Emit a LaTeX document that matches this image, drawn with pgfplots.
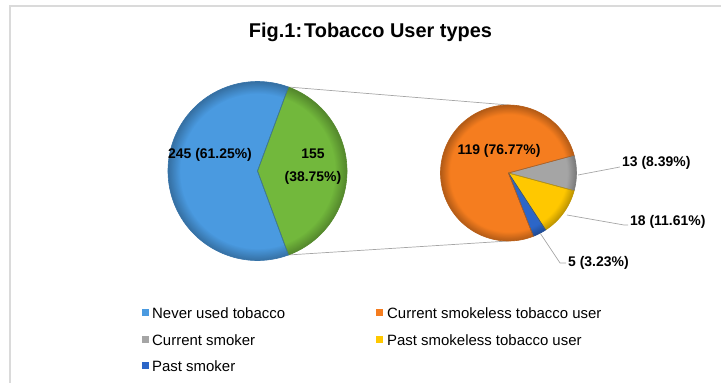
\documentclass[border=0pt]{standalone}
\usepackage{fontspec}
\setmainfont{Liberation Sans}
\usepackage{pgfplots}
\usepackage{pgfplotstable}
\usetikzlibrary{fadings}
\pgfplotsset{compat=1.18}

\definecolor{neverblue}{HTML}{4A9AE0}
\definecolor{usergreen}{HTML}{72B83C}
\definecolor{smokelessorange}{HTML}{F57D1F}
\definecolor{smokergray}{HTML}{A5A5A5}
\definecolor{pastyellow}{HTML}{FFC800}
\definecolor{pastblue}{HTML}{2C66C8}
\definecolor{linegray}{HTML}{A6A6A6}
\definecolor{framegray}{HTML}{DADADA}

% soft darkening towards the rim of each pie
\pgfdeclareradialshading{pierimshade}{\pgfpointorigin}{%
  color(0bp)=(pgftransparent!100); color(21.5bp)=(pgftransparent!100);
  color(25bp)=(pgftransparent!72); color(50bp)=(pgftransparent!72)}
\pgfdeclarefading{pierim}{\pgfuseshading{pierimshade}}

% main pie: the tobacco users are split out into the second pie
\pgfplotstableread[col sep=comma]{
label,value,colour
Tobacco users,155,usergreen
Never used tobacco,245,neverblue
}\mainpie

% breakdown of the tobacco users
\pgfplotstableread[col sep=comma]{
label,value,colour
Current smoker,13,smokergray
Past smokeless tobacco user,18,pastyellow
Past smoker,5,pastblue
Current smokeless tobacco user,119,smokelessorange
}\splitpie

% pie from a table: first slice centred on 0 degrees, the others follow clockwise
\newcommand\drawpie[4]{% table, centre x, centre y, radius (bp)
  \pgfplotstablegetrowsof{#1}%
  \pgfmathtruncatemacro\lastrow{\pgfplotsretval-1}%
  \gdef\pietotal{0}%
  \foreach \i in {0,...,\lastrow}{%
    \pgfplotstablegetelem{\i}{value}\of{#1}%
    \pgfmathsetmacro\tmp{\pietotal+\pgfplotsretval}%
    \xdef\pietotal{\tmp}}%
  \pgfplotstablegetelem{0}{value}\of{#1}%
  \pgfmathsetmacro\tmp{\pgfplotsretval/\pietotal*180}%
  \xdef\piecur{\tmp}%
  \foreach \i in {0,...,\lastrow}{%
    \pgfplotstablegetelem{\i}{colour}\of{#1}\let\slicecol\pgfplotsretval
    \pgfplotstablegetelem{\i}{value}\of{#1}%
    \pgfmathsetmacro\nxt{\piecur-\pgfplotsretval/\pietotal*360}%
    \fill[fill=\slicecol] (axis cs:#2,#3) -- ++(\piecur:#4bp)
      arc[start angle=\piecur, end angle=\nxt, radius=#4bp] -- cycle;
    \xdef\piecur{\nxt}}%
  \fill[black, path fading=pierim] (axis cs:#2,#3) circle[radius=#4bp];
  \xdef\piecur{\tmp}%
  \foreach \i in {0,...,\lastrow}{%
    \pgfplotstablegetelem{\i}{colour}\of{#1}\let\slicecol\pgfplotsretval
    \pgfplotstablegetelem{\i}{value}\of{#1}%
    \pgfmathsetmacro\nxt{\piecur-\pgfplotsretval/\pietotal*360}%
    \draw[draw=\slicecol!75!black, line width=0.6bp, line join=round]
      (axis cs:#2,#3) -- ++(\piecur:#4bp)
      arc[start angle=\piecur, end angle=\nxt, radius=#4bp] -- cycle;
    \xdef\piecur{\nxt}}%
}

\newcommand\labelfont{\bfseries\fontsize{14}{23}\selectfont}
\newcommand\legendfont{\fontsize{15}{18}\selectfont}

\begin{document}
\begin{tikzpicture}
\begin{axis}[
  scale only axis, width=721bp, height=383bp,
  xmin=0, xmax=721, ymin=0, ymax=383,
  hide axis, clip=false]

% chart frame (top and left edges)
\draw[framegray, line width=1.2bp] (axis cs:10,0) -- (axis cs:10,377) -- (axis cs:721,377);

% connectors from the split slice to the second pie
\draw[linegray, line width=0.7bp] (axis cs:257.5,212) ++(69.75:89.5bp) -- (axis cs:508.5,278);
\draw[linegray, line width=0.7bp] (axis cs:257.5,212) ++(-69.75:89.5bp) -- (axis cs:508.5,142);

\pgfplotsextra{\drawpie{\mainpie}{257.5}{212}{89.5}}
\pgfplotsextra{\drawpie{\splitpie}{508.5}{210}{68}}

% data labels
\node[font=\labelfont] at (axis cs:210,228) {245 (61.25\%)};
\node[font=\labelfont, align=center] at (axis cs:313,216) {155\\(38.75\%)};
\node[font=\labelfont] at (axis cs:499,232) {119 (76.77\%)};
\node[font=\labelfont, anchor=west, inner sep=0] at (axis cs:622,220) {13 (8.39\%)};
\node[font=\labelfont, anchor=west, inner sep=0] at (axis cs:630,161) {18 (11.61\%)};
\node[font=\labelfont, anchor=west, inner sep=0] at (axis cs:568,120) {5 (3.23\%)};

% leader lines
\draw[linegray, line width=0.7bp] (axis cs:578,208) -- (axis cs:620,216);
\draw[linegray, line width=0.7bp] (axis cs:567,168) -- (axis cs:624,158) -- (axis cs:628,158);
\draw[linegray, line width=0.7bp] (axis cs:540,150) -- (axis cs:560,120) -- (axis cs:566,120);

% title
\node[font=\bfseries\fontsize{20}{24}\selectfont] at (axis cs:370.5,351)
  {Fig.1:\hspace{2bp}Tobacco User types};

% legend
\fill[neverblue] (axis cs:142,67) rectangle (axis cs:149,74);
\node[font=\legendfont, anchor=west, inner sep=0] at (axis cs:152,70) {Never used tobacco};
\fill[smokelessorange] (axis cs:376,67) rectangle (axis cs:383,74);
\node[font=\legendfont, anchor=west, inner sep=0] at (axis cs:387,70) {Current smokeless tobacco user};
\fill[smokergray] (axis cs:142,40) rectangle (axis cs:149,47);
\node[font=\legendfont, anchor=west, inner sep=0] at (axis cs:152,43) {Current smoker};
\fill[pastyellow] (axis cs:376,40) rectangle (axis cs:383,47);
\node[font=\legendfont, anchor=west, inner sep=0] at (axis cs:387,43) {Past smokeless tobacco user};
\fill[pastblue] (axis cs:142,14) rectangle (axis cs:149,21);
\node[font=\legendfont, anchor=west, inner sep=0] at (axis cs:152,17) {Past smoker};
\end{axis}
\pgfresetboundingbox
\path (0,0) rectangle (721bp,383bp);
\end{tikzpicture}
\end{document}
